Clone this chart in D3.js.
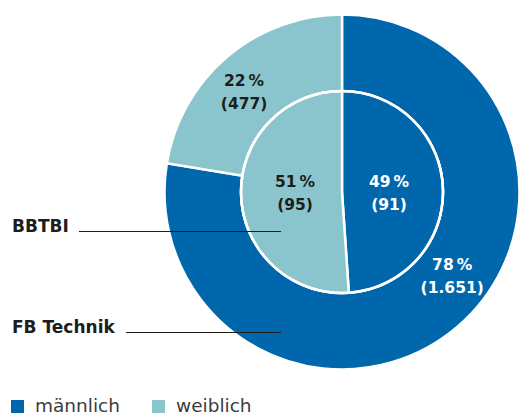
<!DOCTYPE html>
<html><head><meta charset="utf-8">
<script src="https://cdn.jsdelivr.net/npm/d3@7"></script>
<style>html,body{margin:0;padding:0;background:#fff;}svg{display:block;font-family:"DejaVu Sans",sans-serif;}</style>
</head><body>
<svg id="c" width="519" height="415"></svg>
<script>
const categories = ["männlich", "weiblich"];
const colors = ["#0067ac", "#8ac5cd"];
const outerValues = [1651, 477];   // FB Technik
const outerPercents = [78, 22];
const innerValues = [91, 95];      // BBTBI
const innerPercents = [49, 51];
const groupLabels = ["BBTBI", "FB Technik"];

const svg = d3.select("#c");
const cx = 342, cy = 192;
const rOuter = 177.5, rInner = 101;
const g = svg.append("g").attr("transform", `translate(${cx},${cy})`);
const color = d3.scaleOrdinal().domain(categories).range(colors);
const pie = d3.pie().sort(null).value(d => d.v);
const fmt = d3.formatLocale({decimal: ",", thousands: ".", grouping: [3], currency: ["", "€"]}).format(",d");

const outerData = pie(categories.map((c, i) => ({c, v: outerValues[i], p: outerPercents[i]})));
const innerData = pie(categories.map((c, i) => ({c, v: innerValues[i], p: innerPercents[i]})));

const arcOuter = d3.arc().innerRadius(rInner).outerRadius(rOuter);
const arcInner = d3.arc().innerRadius(0).outerRadius(rInner);

g.selectAll("path.o").data(outerData).join("path").attr("class", "o")
  .attr("d", arcOuter).attr("fill", d => color(d.data.c))
  .attr("stroke", "#fff").attr("stroke-width", 2.5);
g.selectAll("path.i").data(innerData).join("path").attr("class", "i")
  .attr("d", arcInner).attr("fill", d => color(d.data.c))
  .attr("stroke", "#fff").attr("stroke-width", 2.5);
g.append("circle").attr("r", rInner).attr("fill", "none").attr("stroke", "#fff").attr("stroke-width", 2.5);

// labels
function addLabel(x, y, d, fill) {
  const t = g.append("text").attr("text-anchor", "middle").attr("font-weight", 700)
    .attr("font-size", 15.5).attr("fill", fill);
  t.append("tspan").attr("x", x).attr("y", y).text(d.data.p + "\u2009%");
  t.append("tspan").attr("x", x).attr("y", y + 23).text("(" + fmt(d.data.v) + ")");
}
// outer labels placed within the ring
const outerPos = [{a: 127, r: 138}, {a: 316, r: 141}];
outerData.forEach((d, i) => {
  const a = outerPos[i].a * Math.PI / 180, r = outerPos[i].r;
  addLabel(r * Math.sin(a), -r * Math.cos(a) - 5, d, i === 0 ? "#fff" : "#1d1d1b");
});
innerData.forEach((d, i) => {
  const a = (d.startAngle + d.endAngle) / 2;
  const x = Math.sign(Math.sin(a)) * 47;
  addLabel(x, -5, d, i === 0 ? "#fff" : "#1d1d1b");
});

// group labels with leader lines
const groups = [{y: 231, lx: 79}, {y: 332, lx: 126}];
groupLabels.forEach((lab, i) => {
  svg.append("text").attr("x", 12).attr("y", groups[i].y + 1).attr("font-weight", 700)
    .attr("font-size", 17).attr("fill", "#1d1d1b").text(lab);
  svg.append("line").attr("x1", groups[i].lx).attr("x2", 281)
    .attr("y1", groups[i].y + 0.5).attr("y2", groups[i].y + 0.5)
    .attr("stroke", "#1d1d1b").attr("stroke-width", 1.2);
});

// legend
const legX = [11, 152];
categories.forEach((c, i) => {
  svg.append("rect").attr("x", legX[i]).attr("y", 400).attr("width", 13).attr("height", 13).attr("fill", color(c));
  svg.append("text").attr("x", legX[i] + 24).attr("y", 412).attr("font-size", 18.5).attr("fill", "#3c3c3b").text(c);
});
</script>
</body></html>
